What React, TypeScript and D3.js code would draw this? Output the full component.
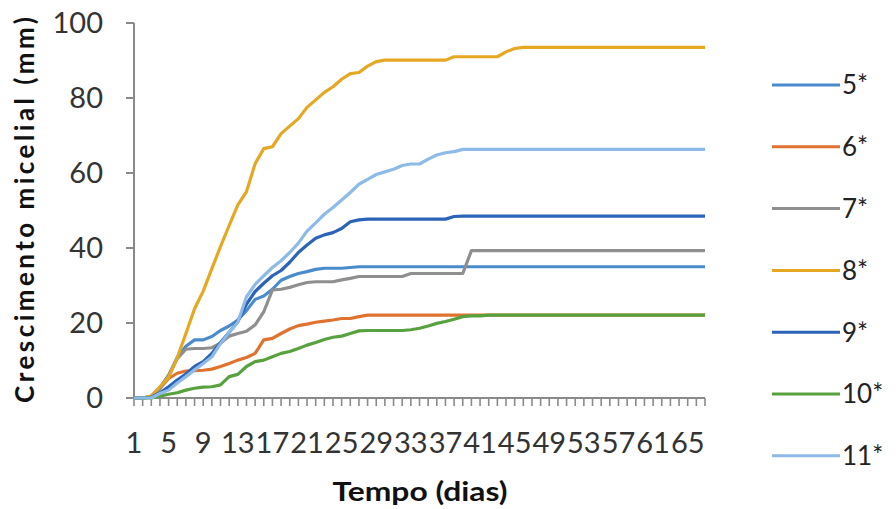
import * as d3 from 'd3';

// dias 1..67
const days = Array.from({ length: 67 }, (_, i) => i + 1);
const dayLabels = [1, 5, 9, 13, 17, 21, 25, 29, 33, 37, 41, 45, 49, 53, 57, 61, 65];
const yTicks = [0, 20, 40, 60, 80, 100];

const s5 = [0, 0, 0.5, 2.8, 6, 10.8, 13.8, 15.5, 15.5, 16.4,
  18, 19.2, 20.8, 23.3, 26.3, 27.2, 29, 31.4, 32.4, 33.2,
  33.7, 34.3, 34.6, 34.6, 34.6, 34.8, 35, 35, 35, 35,
  35, 35, 35, 35, 35, 35, 35, 35, 35, 35,
  35, 35, 35, 35, 35, 35, 35, 35, 35, 35,
  35, 35, 35, 35, 35, 35, 35, 35, 35, 35,
  35, 35, 35, 35, 35, 35, 35];
const s6 = [0, 0, 0.3, 2.6, 5.2, 6.6, 7.2, 7.3, 7.4, 7.7,
  8.4, 9.2, 10.1, 10.8, 11.9, 15.5, 15.9, 17.2, 18.4, 19.3,
  19.7, 20.2, 20.5, 20.8, 21.2, 21.2, 21.7, 22.1, 22.1, 22.1,
  22.1, 22.1, 22.1, 22.1, 22.1, 22.1, 22.1, 22.1, 22.1, 22.1,
  22.1, 22.1, 22.1, 22.1, 22.1, 22.1, 22.1, 22.1, 22.1, 22.1,
  22.1, 22.1, 22.1, 22.1, 22.1, 22.1, 22.1, 22.1, 22.1, 22.1,
  22.1, 22.1, 22.1, 22.1, 22.1, 22.1, 22.1];
const s7 = [0, 0, 0.3, 2.5, 6, 10.5, 13, 13.2, 13.2, 13.4,
  14.6, 16.5, 17.2, 17.8, 19.5, 23, 28.8, 29, 29.5, 30.2,
  30.8, 31, 31, 31, 31.5, 31.9, 32.4, 32.4, 32.4, 32.4,
  32.4, 32.4, 33.2, 33.2, 33.2, 33.2, 33.2, 33.2, 33.2, 39.3,
  39.3, 39.3, 39.3, 39.3, 39.3, 39.3, 39.3, 39.3, 39.3, 39.3,
  39.3, 39.3, 39.3, 39.3, 39.3, 39.3, 39.3, 39.3, 39.3, 39.3,
  39.3, 39.3, 39.3, 39.3, 39.3, 39.3, 39.3];
const s8 = [0, 0, 0.5, 3, 5.5, 10.8, 17.2, 23.8, 28.5, 34.5,
  40.4, 46, 51.5, 55, 62.5, 66.5, 67, 70.5, 72.5, 74.5,
  77.5, 79.5, 81.5, 83, 85, 86.5, 86.8, 88.5, 89.7, 90.1,
  90.1, 90.1, 90.1, 90.1, 90.1, 90.1, 90.1, 91, 91, 91,
  91, 91, 91, 92.3, 93.2, 93.5, 93.5, 93.5, 93.5, 93.5,
  93.5, 93.5, 93.5, 93.5, 93.5, 93.5, 93.5, 93.5, 93.5, 93.5,
  93.5, 93.5, 93.5, 93.5, 93.5, 93.5, 93.5];
const s9 = [0, 0, 0.2, 1.4, 3, 4.8, 6.4, 8.4, 9.7, 11.9,
  14.8, 17.5, 20.4, 25, 28.4, 30.6, 32.6, 34, 36.2, 38.8,
  40.8, 42.6, 43.5, 44.1, 45.2, 47, 47.5, 47.7, 47.7, 47.7,
  47.7, 47.7, 47.7, 47.7, 47.7, 47.7, 47.7, 48.4, 48.5, 48.5,
  48.5, 48.5, 48.5, 48.5, 48.5, 48.5, 48.5, 48.5, 48.5, 48.5,
  48.5, 48.5, 48.5, 48.5, 48.5, 48.5, 48.5, 48.5, 48.5, 48.5,
  48.5, 48.5, 48.5, 48.5, 48.5, 48.5, 48.5];
const s10 = [0, 0, 0, 0.5, 1, 1.4, 2.1, 2.6, 2.9, 3,
  3.5, 5.7, 6.3, 8.4, 9.7, 10.1, 11, 11.9, 12.4, 13.2,
  14.1, 14.8, 15.6, 16.2, 16.5, 17.2, 17.9, 18, 18, 18,
  18, 18, 18.2, 18.6, 19.2, 19.9, 20.4, 21, 21.7, 21.9,
  21.9, 22.1, 22.1, 22.1, 22.1, 22.1, 22.1, 22.1, 22.1, 22.1,
  22.1, 22.1, 22.1, 22.1, 22.1, 22.1, 22.1, 22.1, 22.1, 22.1,
  22.1, 22.1, 22.1, 22.1, 22.1, 22.1, 22.1];
const s11 = [0, 0, 0, 1.2, 2.1, 4, 5.7, 7.5, 9.2, 11,
  14.5, 17.5, 20.2, 27, 30.3, 32.6, 34.8, 36.6, 38.8, 41.3,
  44.5, 46.7, 49, 50.8, 52.8, 54.8, 57, 58.3, 59.6, 60.3,
  61, 62, 62.4, 62.4, 63.7, 64.8, 65.4, 65.7, 66.3, 66.3,
  66.3, 66.3, 66.3, 66.3, 66.3, 66.3, 66.3, 66.3, 66.3, 66.3,
  66.3, 66.3, 66.3, 66.3, 66.3, 66.3, 66.3, 66.3, 66.3, 66.3,
  66.3, 66.3, 66.3, 66.3, 66.3, 66.3, 66.3];

const seriesNames = ['5*', '6*', '7*', '8*', '9*', '10*', '11*'];
const seriesValues = [s5, s6, s7, s8, s9, s10, s11];
const colors = ['#4a8ccb', '#e0722f', '#8f8f8f', '#e6a823', '#2b63b8', '#58a13f', '#8dbae6'];

export default function App() {
  const width = 896;
  const height = 509;
  const x = d3.scalePoint<number>().domain(days).range([134, 705]);
  const y = d3.scaleLinear().domain([0, 100]).range([398, 23]);

  const line = d3.line<number>()
    .x((_, i) => x(days[i]) as number)
    .y(d => y(d));

  const axisColor = '#8a8a8a';
  const font = 'Lato, "Liberation Sans", Arial, sans-serif';

  return (
    <svg width={width} height={height} style={{ position: 'absolute', left: 0, top: 0 }}
      fontFamily={font}>
      <rect width={width} height={height} fill="#fff" />

      {/* eixo y */}
      <line x1={134} x2={134} y1={y(100)} y2={y(0)} stroke={axisColor} strokeWidth={2} />
      {yTicks.map(t => (
        <g key={t}>
          <line x1={126} x2={134} y1={y(t)} y2={y(t)} stroke={axisColor} strokeWidth={2} />
          <text x={103} y={y(t)} dy="0.36em" textAnchor="end" fontSize={29} fill="#333">{t}</text>
        </g>
      ))}

      {/* eixo x */}
      <line x1={134} x2={705} y1={y(0)} y2={y(0)} stroke={axisColor} strokeWidth={2} />
      {days.map(d => (
        <line key={d} x1={x(d)} x2={x(d)} y1={398} y2={406} stroke={axisColor} strokeWidth={1.6} />
      ))}
      {dayLabels.map(d => (
        <text key={d} x={x(d)} y={453} textAnchor="middle" fontSize={29} fill="#333">{d}</text>
      ))}

      {/* séries */}
      {seriesValues.map((vals, i) => (
        <path key={seriesNames[i]} d={line(vals) ?? ''} fill="none" stroke={colors[i]}
          strokeWidth={3.2} strokeLinejoin="round" />
      ))}

      {/* títulos */}
      <text x={420} y={501} textAnchor="middle" fontSize={27} fontWeight="bold" fill="#111"
        textLength={175} lengthAdjust="spacingAndGlyphs">Tempo (dias)</text>
      <text transform="translate(34,210) rotate(-90)" textAnchor="middle" fontSize={26}
        fontWeight="bold" fill="#111" textLength={386} lengthAdjust="spacing">Crescimento micelial (mm)</text>

      {/* legenda */}
      {seriesNames.map((name, i) => {
        const ly = 85 + i * 61.8;
        return (
          <g key={name}>
            <line x1={772} x2={840} y1={ly} y2={ly} stroke={colors[i]} strokeWidth={3} />
            <text x={842} y={ly} dy="0.36em" fontSize={26} fill="#222">{name}</text>
          </g>
        );
      })}
    </svg>
  );
}
